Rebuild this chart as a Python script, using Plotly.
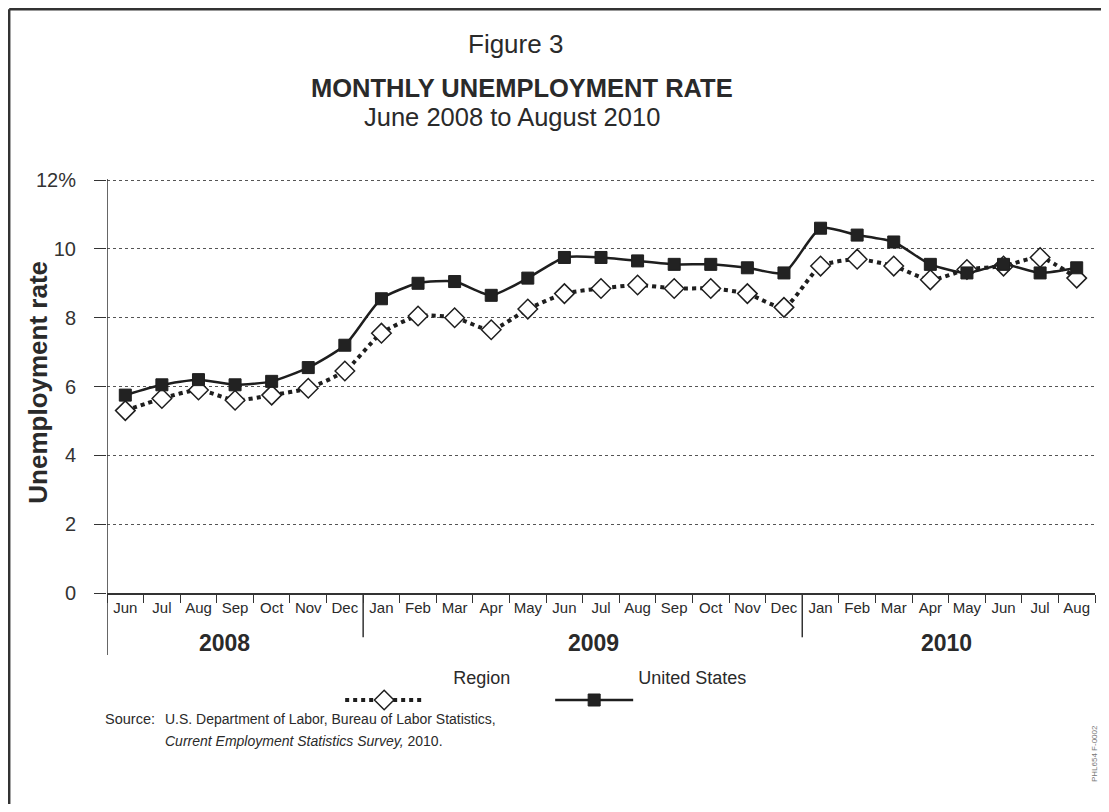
import plotly.graph_objects as go

# ---- data ----
months = ["Jun", "Jul", "Aug", "Sep", "Oct", "Nov", "Dec",
          "Jan", "Feb", "Mar", "Apr", "May", "Jun", "Jul", "Aug", "Sep", "Oct", "Nov", "Dec",
          "Jan", "Feb", "Mar", "Apr", "May", "Jun", "Jul", "Aug"]
years = ["2008", "2009", "2010"]
region = [5.30, 5.65, 5.90, 5.60, 5.75, 5.95, 6.45,
          7.55, 8.05, 8.00, 7.65, 8.25, 8.70, 8.85, 8.95, 8.85, 8.85, 8.70, 8.30,
          9.50, 9.70, 9.50, 9.10, 9.40, 9.50, 9.75, 9.15]
us = [5.75, 6.05, 6.20, 6.05, 6.15, 6.55, 7.20,
      8.55, 9.00, 9.05, 8.65, 9.15, 9.75, 9.75, 9.65, 9.55, 9.55, 9.45, 9.30,
      10.60, 10.40, 10.20, 9.55, 9.30, 9.55, 9.30, 9.45]
y_ticks = [0, 2, 4, 6, 8, 10, 12]
y_ticktext = ["0", "2", "4", "6", "8", "10", "12%"]

x = list(range(len(months)))
INK = "#1e1e1e"
TXT = "#2a2a2a"
SANS = "Liberation Sans, Arial, Helvetica, sans-serif"
PAD = "&nbsp;" * 5

fig = go.Figure()
fig.add_trace(go.Scatter(
    x=x, y=region, name=PAD + "Region<br>&nbsp;", mode="lines+markers",
    line=dict(color=INK, width=4, dash="dot", shape="spline", smoothing=0.6),
    marker=dict(symbol="diamond", size=15, color="white", line=dict(color=INK, width=1.5)),
))
fig.add_trace(go.Scatter(
    x=x, y=us, name="United States<br>&nbsp;", mode="lines+markers",
    line=dict(color=INK, width=2.5, shape="spline", smoothing=0.6),
    marker=dict(symbol="square", size=12, color="#222222", line=dict(color=INK, width=1)),
))

fig.update_layout(
    width=1093, height=796,
    margin=dict(l=99, r=6, t=171, b=211),
    paper_bgcolor="white", plot_bgcolor="white",
    font=dict(family=SANS, color=TXT),
    showlegend=True,
    legend=dict(orientation="h", x=0.236, xanchor="left", y=-0.158, yanchor="top",
                font=dict(family=SANS, size=18, color=TXT), valign="bottom",
                itemwidth=78, entrywidth=117, entrywidthmode="pixels",
                bgcolor="rgba(0,0,0,0)"),
)

fig.update_xaxes(
    range=[-0.5, len(months) - 0.5],
    tickmode="array", tickvals=x, ticktext=months, ticks="",
    tickfont=dict(family=SANS, size=15, color=TXT),
    showgrid=False, zeroline=False,
    showline=True, linecolor="#333333", linewidth=1.5,
    minor=dict(tickmode="array", tickvals=[i - 0.5 for i in range(len(months) + 1)],
               ticks="outside", ticklen=8, tickcolor="#333333", tickwidth=1.2, showgrid=False),
)
fig.update_yaxes(
    range=[0, 12.03], tickmode="array", tickvals=y_ticks, ticktext=y_ticktext,
    ticks="outside", ticklen=12, tickcolor="#333333", tickwidth=1.2, ticklabelstandoff=14,
    tickfont=dict(family=SANS, size=20, color="#333333"),
    showgrid=True, gridcolor="#555555", gridwidth=1, griddash="dot",
    zeroline=False, showline=False,
)

shapes = []
# y-axis line extending below the plot
shapes.append(dict(type="line", xref="x", yref="paper", x0=-0.5, x1=-0.5, y0=-0.15, y1=1.0,
                   line=dict(color="#333333", width=1.5)))
# year separators
for xs in (6.5, 18.5):
    shapes.append(dict(type="line", xref="x", yref="paper", x0=xs, x1=xs, y0=-0.107, y1=0,
                       line=dict(color="#333333", width=1.5)))
# page frame (top and left)
shapes.append(dict(type="line", xref="paper", yref="paper", x0=-0.099, x1=1.01, y0=1.41, y1=1.41,
                   line=dict(color="#333333", width=2.5)))
shapes.append(dict(type="line", xref="paper", yref="paper", x0=-0.099, x1=-0.099, y0=1.41, y1=-0.52,
                   line=dict(color="#333333", width=2.5)))
fig.update_layout(shapes=shapes)

ann = []
for yr, xc in zip(years, (2.7, 12.8, 22.45)):
    ann.append(dict(x=xc, y=-0.121, xref="x", yref="paper", text="<b>%s</b>" % yr, showarrow=False,
                    font=dict(family=SANS, size=23, color=TXT), yanchor="middle"))
ann.append(dict(x=0.413, y=1.326, xref="paper", yref="paper", text="Figure 3", showarrow=False,
                font=dict(family=SANS, size=26, color=TXT), yanchor="middle"))
ann.append(dict(x=0.420, y=1.22, xref="paper", yref="paper", text="<b>MONTHLY UNEMPLOYMENT RATE</b>",
                showarrow=False, font=dict(family=SANS, size=25.5, color=TXT), yanchor="middle"))
ann.append(dict(x=0.410, y=1.15, xref="paper", yref="paper", text="June 2008 to August 2010",
                showarrow=False, font=dict(family=SANS, size=25.5, color=TXT), yanchor="middle"))
ann.append(dict(x=-0.07, y=0.51, xref="paper", yref="paper", text="<b>Unemployment rate</b>",
                textangle=-90, showarrow=False, font=dict(family=SANS, size=26, color=TXT),
                xanchor="center", yanchor="middle"))
ann.append(dict(x=-0.004, y=-0.304, xref="paper", yref="paper", text="Source:", showarrow=False,
                xanchor="left", yanchor="middle", font=dict(family=SANS, size=14.5, color=TXT)))
ann.append(dict(x=0.0567, y=-0.304, xref="paper", yref="paper",
                text="U.S. Department of Labor, Bureau of Labor Statistics,", showarrow=False,
                xanchor="left", yanchor="middle", font=dict(family=SANS, size=14, color=TXT)))
ann.append(dict(x=0.0567, y=-0.357, xref="paper", yref="paper",
                text="<i>Current Employment Statistics Survey,</i> 2010.", showarrow=False,
                xanchor="left", yanchor="middle", font=dict(family=SANS, size=14, color=TXT)))
ann.append(dict(x=0.999, y=-0.389, xref="paper", yref="paper", text="PHL654 F-0002", textangle=-90,
                showarrow=False, font=dict(family=SANS, size=8, color="#777777"),
                xanchor="center", yanchor="middle"))
fig.update_layout(annotations=ann)

fig.write_html("out.html")
